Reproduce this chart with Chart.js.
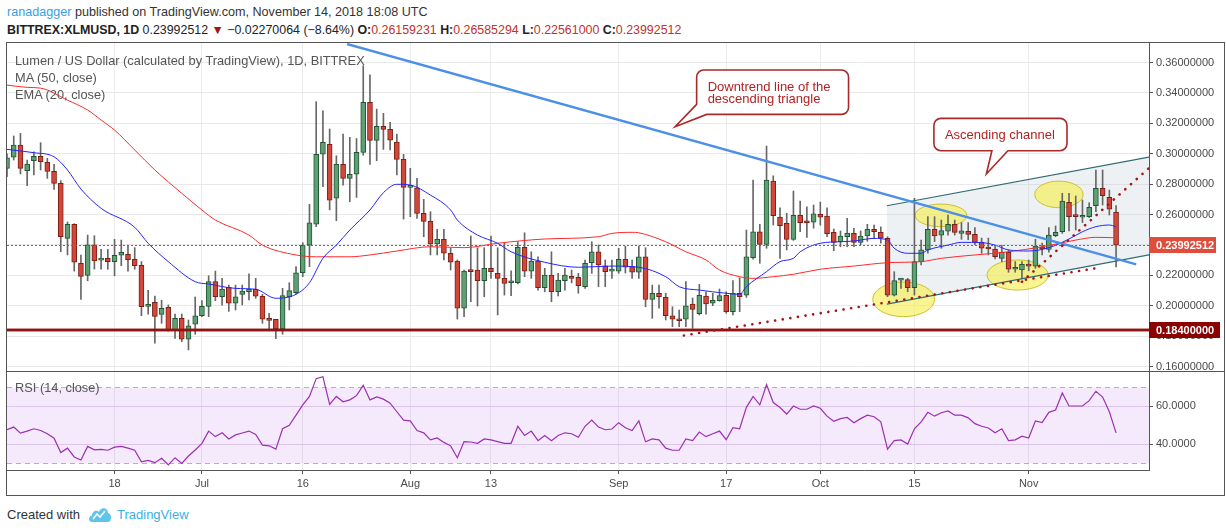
<!DOCTYPE html>
<html>
<head>
<meta charset="utf-8">
<script src="https://cdn.jsdelivr.net/npm/chart.js@4.4.1/dist/chart.umd.min.js"></script>
<style>
  body { margin: 0; width: 1226px; height: 532px; overflow: hidden; background: #fff; position: relative;
         font-family: 'Liberation Sans', Arial, sans-serif; color: #333; }
  .t { position: absolute; white-space: nowrap; line-height: 16px; }
  #frame { position: absolute; left: 6px; top: 42px; width: 1219px; height: 454px; border: 1px solid #555; box-sizing: border-box; }
  canvas { position: absolute; }
  .red { color: #c0322a; }
  .b { font-weight: bold; }
</style>
</head>
<body>
<div id="frame"></div>
<canvas id="price" width="1217" height="328" style="left:7px;top:43px"></canvas>
<canvas id="rsi" width="1217" height="124" style="left:7px;top:371px"></canvas>

<div class="t" style="left:7px;top:4px;font-size:12.6px"><span style="color:#3a9ee4">ranadagger</span> published on TradingView.com, November 14, 2018 18:08 UTC</div>
<div class="t" style="left:7px;top:22px;font-size:12.4px;color:#222"><span class="b">BITTREX:XLMUSD, 1D</span> 0.23992512 <span style="color:#a31515">▼</span> −0.02270064 (−8.64%) <span class="b">O:</span><span class="red">0.26159231</span> <span class="b">H:</span><span class="red">0.26585294</span> <span class="b">L:</span><span class="red">0.22561000</span> <span class="b">C:</span><span class="red">0.23992512</span></div>

<div class="t" style="left:15px;top:53px;font-size:12.8px;color:#555">Lumen / US Dollar (calculated by TradingView), 1D, BITTREX</div>
<div class="t" style="left:15px;top:70px;font-size:12.8px;color:#555">MA (50, close)</div>
<div class="t" style="left:15px;top:87px;font-size:12.8px;color:#555">EMA (20, close)</div>
<div class="t" style="left:15px;top:380px;font-size:12.8px;color:#555">RSI (14, close)</div>

<div class="t" style="left:7px;top:507px;font-size:13px;color:#333">Created with</div>
<svg style="position:absolute;left:88px;top:505px" width="24" height="18" viewBox="0 0 24 18">
  <path d="M4 17 C0 17 0 11 4 10.5 C4 6 9 4.5 11 7 C12.5 2 20 2 20 8 C24 8.5 24 17 20 17 Z" fill="#5ec4ea"/>
  <path d="M5 14 L9 9 L12 12 L17 6" stroke="#fff" stroke-width="1.6" fill="none"/>
</svg>
<div class="t" style="left:117px;top:507px;font-size:13px;color:#3bb1e2">TradingView</div>

<script>
// daily candles, day 0 = 2 Jun 2018 ... day 165 = 14 Nov 2018
const opens = [
  0.2904,0.2977,0.3057,0.2888,0.2954,0.2983,0.2944,0.2884,0.2805,0.2443,
  0.2536,0.2279,0.2200,0.2401,0.2300,0.2312,0.2290,0.2332,0.2338,0.2305,
  0.2266,0.1996,0.2022,0.1943,0.1990,0.1840,0.1917,0.1779,0.1878,0.1934,
  0.1996,0.2158,0.2059,0.2121,0.2016,0.2075,0.2092,0.2110,0.2062,0.1917,
  0.1911,0.1847,0.2059,0.2086,0.2217,0.2399,0.2536,0.2997,0.3062,0.2707,
  0.2930,0.2838,0.2865,0.3009,0.3338,0.3088,0.3180,0.3161,0.3077,0.2963,
  0.2779,0.2775,0.2608,0.2555,0.2406,0.2437,0.2345,0.2294,0.1983,0.2228,
  0.2235,0.2165,0.2246,0.2213,0.2180,0.2151,0.2151,0.2384,0.2228,0.2294,
  0.2118,0.2202,0.2092,0.2165,0.2191,0.2187,0.2125,0.2283,0.2355,0.2263,
  0.2228,0.2228,0.2305,0.2257,0.2220,0.2322,0.2042,0.2082,0.2055,0.1934,
  0.1912,0.1911,0.2011,0.1947,0.2064,0.2016,0.2033,0.2068,0.1961,0.2082,
  0.2070,0.2316,0.2487,0.2404,0.2821,0.2584,0.2542,0.2437,0.2595,0.2551,
  0.2549,0.2601,0.2590,0.2483,0.2421,0.2454,0.2476,0.2417,0.2459,0.2503,
  0.2483,0.2444,0.2070,0.2168,0.2172,0.2118,0.2290,0.2367,0.2503,0.2465,
  0.2491,0.2536,0.2476,0.2490,0.2470,0.2417,0.2382,0.2373,0.2312,0.2351,
  0.2240,0.2235,0.2274,0.2261,0.2386,0.2371,0.2461,0.2487,0.2680,0.2597,
  0.2582,0.2586,0.2658,0.2773,0.2713,0.26159231
];
const highs = [
  0.3000,0.3117,0.3134,0.2959,0.3013,0.3073,0.2970,0.2930,0.2823,0.2551,
  0.2540,0.2334,0.2465,0.2461,0.2371,0.2371,0.2437,0.2432,0.2399,0.2382,
  0.2290,0.2101,0.2064,0.2036,0.2005,0.1945,0.1945,0.1906,0.2057,0.2033,
  0.2197,0.2228,0.2180,0.2136,0.2136,0.2136,0.2209,0.2180,0.2075,0.1950,
  0.1911,0.2114,0.2151,0.2257,0.2415,0.2667,0.3343,0.3283,0.3163,0.2987,
  0.3130,0.3108,0.3100,0.3580,0.3520,0.3294,0.3266,0.3207,0.3130,0.2996,
  0.2904,0.2838,0.2700,0.2619,0.2503,0.2503,0.2378,0.2301,0.2235,0.2459,
  0.2382,0.2382,0.2459,0.2382,0.2415,0.2230,0.2421,0.2480,0.2355,0.2322,
  0.2246,0.2355,0.2213,0.2246,0.2235,0.2213,0.2301,0.2421,0.2399,0.2301,
  0.2301,0.2378,0.2391,0.2301,0.2393,0.2382,0.2136,0.2136,0.2082,0.1993,
  0.1972,0.2158,0.2051,0.2141,0.2092,0.2082,0.2110,0.2092,0.2165,0.2184,
  0.2498,0.2827,0.2536,0.3051,0.2855,0.2645,0.2608,0.2755,0.2689,0.2651,
  0.2663,0.2682,0.2645,0.2505,0.2492,0.2575,0.2509,0.2492,0.2536,0.2530,
  0.2519,0.2454,0.2224,0.2180,0.2180,0.2707,0.2432,0.2586,0.2586,0.2564,
  0.2597,0.2564,0.2547,0.2547,0.2514,0.2445,0.2445,0.2397,0.2397,0.2367,
  0.2290,0.2290,0.2301,0.2437,0.2412,0.2514,0.2525,0.2740,0.2740,0.2722,
  0.2696,0.2678,0.2893,0.2893,0.2761,0.26585294
];
const lows = [
  0.2850,0.2959,0.2867,0.2790,0.2860,0.2893,0.2838,0.2766,0.2355,0.2334,
  0.2228,0.2042,0.2164,0.2241,0.2240,0.2240,0.2197,0.2263,0.2228,0.2240,
  0.1934,0.1945,0.1753,0.1884,0.1833,0.1785,0.1763,0.1709,0.1812,0.1928,
  0.1928,0.2033,0.2003,0.1963,0.1972,0.2005,0.2038,0.2049,0.1884,0.1840,
  0.1783,0.1812,0.1972,0.2077,0.2191,0.2257,0.2520,0.2783,0.2630,0.2559,
  0.2794,0.2684,0.2713,0.2990,0.2930,0.2954,0.3029,0.3025,0.2860,0.2570,
  0.2586,0.2575,0.2454,0.2334,0.2334,0.2301,0.2235,0.1912,0.1928,0.2026,
  0.1998,0.2059,0.2180,0.1939,0.2070,0.2066,0.2143,0.2191,0.2180,0.2103,
  0.2092,0.2026,0.2064,0.2103,0.2150,0.2082,0.2114,0.2213,0.2125,0.2125,
  0.2180,0.2213,0.2215,0.2180,0.2180,0.1993,0.1917,0.1983,0.1906,0.1862,
  0.1862,0.1862,0.1851,0.1939,0.1945,0.2000,0.2030,0.1950,0.1939,0.1961,
  0.2055,0.2307,0.2279,0.2378,0.2531,0.2312,0.2367,0.2430,0.2487,0.2450,
  0.2510,0.2530,0.2454,0.2362,0.2388,0.2388,0.2388,0.2401,0.2424,0.2441,
  0.2412,0.2059,0.2064,0.2114,0.2092,0.2070,0.2268,0.2345,0.2421,0.2378,
  0.2465,0.2465,0.2437,0.2434,0.2401,0.2345,0.2334,0.2308,0.2290,0.2220,
  0.2220,0.2176,0.2230,0.2246,0.2334,0.2353,0.2454,0.2476,0.2492,0.2498,
  0.2547,0.2580,0.2619,0.2663,0.2597,0.22561000
];
const closes = [
  0.2974,0.3057,0.2904,0.2932,0.2983,0.2948,0.2884,0.2805,0.2454,0.2536,
  0.2286,0.2193,0.2401,0.2294,0.2303,0.2290,0.2332,0.2351,0.2303,0.2263,
  0.1993,0.2000,0.1930,0.1983,0.1840,0.1917,0.1779,0.1868,0.1934,0.1996,
  0.2158,0.2059,0.2110,0.2016,0.2059,0.2097,0.2110,0.2062,0.1911,0.1904,
  0.1847,0.2066,0.2099,0.2217,0.2397,0.2546,0.2997,0.3075,0.2694,0.2930,
  0.2838,0.2865,0.3009,0.3338,0.3088,0.3180,0.3161,0.3090,0.2963,0.2779,
  0.2788,0.2608,0.2555,0.2406,0.2437,0.2345,0.2286,0.1983,0.2228,0.2224,
  0.2165,0.2246,0.2224,0.2180,0.2147,0.2157,0.2384,0.2228,0.2294,0.2118,
  0.2202,0.2092,0.2169,0.2202,0.2180,0.2132,0.2279,0.2355,0.2268,0.2224,
  0.2232,0.2305,0.2253,0.2220,0.2322,0.2042,0.2082,0.2059,0.1934,0.1911,
  0.1901,0.2000,0.1976,0.2068,0.2011,0.2036,0.2066,0.1961,0.2082,0.2059,
  0.2322,0.2487,0.2404,0.2827,0.2592,0.2526,0.2437,0.2595,0.2546,0.2546,
  0.2605,0.2582,0.2474,0.2417,0.2459,0.2478,0.2417,0.2459,0.2503,0.2487,
  0.2444,0.2070,0.2165,0.2172,0.2118,0.2290,0.2367,0.2503,0.2459,0.2494,
  0.2536,0.2483,0.2492,0.2470,0.2417,0.2378,0.2373,0.2322,0.2351,0.2240,
  0.2246,0.2272,0.2261,0.2393,0.2373,0.2465,0.2483,0.2689,0.2586,0.2586,
  0.2586,0.2647,0.2773,0.2724,0.2636,0.23992512
];

// moving averages (day, value)
const maDays = [0,3,5,9,12,14,16,19,22,26,29,31,36,38,43,46,51,54,58,63,68,73,80,88,90,93,94,98,101,104,106,109,111,114,117,121,126,131,136,139,144,149,154,159,162,165];
const maVals = [0.3452,0.3437,0.3432,0.3353,0.3288,0.3222,0.3156,0.3025,0.2893,0.2740,0.2630,0.2564,0.2465,0.2399,0.2334,0.2322,0.2322,0.2334,0.2360,0.2388,0.2382,0.2411,0.2439,0.2454,0.2476,0.2483,0.2480,0.2421,0.2355,0.2301,0.2235,0.2191,0.2180,0.2191,0.2207,0.2240,0.2261,0.2283,0.2290,0.2312,0.2334,0.2355,0.2388,0.2432,0.2450,0.2447];
const emaDays = [0,4,7,9,11,14,19,21,24,28,30,34,37,40,43,45,47,49,51,54,56,58,60,63,66,67,70,73,75,80,85,90,94,98,100,103,107,109,110,113,115,117,118,121,124,126,129,131,132,134,136,137,140,142,145,147,149,152,155,158,160,162,164,165];
const emaVals = [0.3029,0.3007,0.2980,0.2893,0.2768,0.2641,0.2516,0.2411,0.2290,0.2158,0.2143,0.2114,0.2108,0.2049,0.2075,0.2151,0.2312,0.2399,0.2498,0.2630,0.2744,0.2799,0.2794,0.2728,0.2630,0.2564,0.2465,0.2411,0.2355,0.2286,0.2253,0.2261,0.2253,0.2191,0.2125,0.2103,0.2082,0.2075,0.2125,0.2224,0.2290,0.2312,0.2355,0.2411,0.2421,0.2426,0.2443,0.2432,0.2378,0.2345,0.2345,0.2367,0.2399,0.2417,0.2415,0.2399,0.2367,0.2360,0.2382,0.2439,0.2487,0.2520,0.2531,0.2520];

// RSI(14), one value per day
const rsiVals = [
  47.6,49.0,45.8,46.9,48.1,47.2,45.5,43.2,35.7,38.0,
  33.4,31.8,38.9,37.1,37.3,36.9,38.5,38.9,38.0,36.9,
  30.9,31.6,30.4,32.7,29.3,33.0,30.0,33.9,37.0,40.5,
  46.9,44.0,46.0,42.8,44.9,45.9,46.9,45.1,39.6,39.2,
  37.5,48.1,49.9,55.2,60.6,65.0,74.3,75.3,60.8,65.0,
  62.2,63.2,65.4,70.9,63.2,64.7,63.6,61.5,57.0,52.6,
  52.2,47.2,46.0,42.3,43.3,41.0,39.2,33.0,41.4,41.2,
  40.5,42.8,42.3,41.4,40.5,40.5,49.4,44.6,46.9,41.9,
  44.6,41.9,44.6,46.0,45.5,43.7,49.4,52.6,49.0,47.6,
  48.0,51.3,48.6,47.2,52.2,41.3,42.8,42.3,38.0,36.9,
  36.9,42.8,41.9,46.4,44.0,45.5,46.9,42.4,48.7,48.1,
  59.3,65.0,60.6,71.2,61.8,59.2,55.8,60.0,58.3,58.3,
  60.0,58.8,54.7,52.0,53.4,54.0,51.3,53.4,55.2,54.4,
  51.7,37.5,41.9,42.3,40.1,48.1,51.7,56.7,54.7,56.5,
  57.4,55.2,55.2,53.8,50.8,49.4,48.5,46.0,48.1,41.9,
  42.3,44.2,43.3,52.2,51.3,56.7,57.9,66.8,60.0,60.0,
  60.0,62.8,67.7,64.7,57.0,46.0
];

// axis ticks
const tickDays = [16, 29, 44, 60, 72, 91, 107, 121, 135, 152];
const tickLabels = ['18', 'Jul', '16', 'Aug', '13', 'Sep', '17', 'Oct', '15', 'Nov'];
const priceTicks = [0.16, 0.18, 0.20, 0.22, 0.24, 0.26, 0.28, 0.30, 0.32, 0.34, 0.36];
const rsiTicks = [40, 60];
const rsiBand = [30, 70];

// drawings (day, price)
const lastPrice = 0.23992512;
const supportLevel = 0.184;
const downtrend = [[50.6, 0.3722], [168.0, 0.2272]];
const channelUpper = [[130.9, 0.2658], [169.9, 0.2978]];
const channelLower = [[130.9, 0.2011], [169.9, 0.2334]];
const risingDots = [[100.7, 0.1804], [161.9, 0.2246]];
const steepDots = [[151.0, 0.2158], [169.9, 0.2906]];
// [day from, day to, price top, price bottom]
const ellipses = [
  [128.8, 138.0, 0.2156, 0.1928],
  [135.1, 142.8, 0.2669, 0.2520],
  [145.8, 154.9, 0.2301, 0.2103],
  [152.9, 160.1, 0.2820, 0.2645]
];
const callouts = [
  { box: [102.6, 125.2, 0.3551, 0.3259], tip: [99.4, 0.3178], lines: ['Downtrend line of the', 'descending triangle'], tail: 'corner' },
  { box: [137.9, 157.7, 0.3233, 0.3020], tip: [145.7, 0.2867], lines: ['Ascending channel'], tail: 'bottom' }
];

const X_MIN = 0, X_MAX = 169.9;
const GREEN = '#5f9f74', GREEN_EDGE = '#215634', RED = '#d1473a', RED_EDGE = '#7c1e16';

Chart.defaults.font.family = "'Liberation Sans', Arial, sans-serif";
Chart.defaults.font.size = 11;
Chart.defaults.color = '#4a4a4a';

const days = opens.map((_, i) => i);
const up = days.map(i => closes[i] >= opens[i]);

// no label overhang padding: chart area must fill the pane
function noPad(s) {
  s.paddingTop = 0; s.paddingBottom = 0; s.paddingLeft = 0; s.paddingRight = 0;
}

function xAxis(showLabels) {
  return {
    type: 'linear', min: X_MIN, max: X_MAX, offset: false,
    afterBuildTicks: s => { s.ticks = tickDays.map(v => ({ value: v })); },
    ticks: { display: showLabels, autoSkip: false, maxRotation: 0, color: '#4a4a4a',
             callback: v => tickLabels[tickDays.indexOf(v)] },
    grid: { color: '#ebebeb', offset: false, drawTicks: showLabels, tickLength: 4, tickColor: '#555' },
    border: { display: showLabels, color: '#555' },
    afterFit: s => { s.height = showLabels ? 25 : 0; noPad(s); }
  };
}

function seg(ctx, a, b) {
  ctx.beginPath(); ctx.moveTo(a[0], a[1]); ctx.lineTo(b[0], b[1]); ctx.stroke();
}

function roundedPath(ctx, l, t, r, b, rad, c, tip) {
  ctx.beginPath();
  ctx.moveTo(l + rad, t);
  ctx.arcTo(r, t, r, b, rad);
  ctx.arcTo(r, b, l, b, rad);
  if (c.tail === 'bottom') {
    ctx.lineTo(l + 74, b); ctx.lineTo(tip[0], tip[1]); ctx.lineTo(l + 58, b);
    ctx.arcTo(l, b, l, t, rad);
  } else {
    ctx.lineTo(l + 10, b); ctx.lineTo(tip[0], tip[1]); ctx.lineTo(l, b - 10);
  }
  ctx.arcTo(l, t, r, t, rad);
  ctx.closePath();
}

const pricePlugin = {
  id: 'pricePlugin',
  beforeDatasetsDraw(chart) {
    const { ctx, chartArea: a, scales: { x, y } } = chart;
    const P = pt => [x.getPixelForValue(pt[0]), y.getPixelForValue(pt[1])];
    ctx.save();
    ctx.beginPath(); ctx.rect(a.left, a.top, a.width, a.height); ctx.clip();
    const u0 = P(channelUpper[0]), u1 = P(channelUpper[1]), l0 = P(channelLower[0]), l1 = P(channelLower[1]);
    ctx.fillStyle = 'rgba(190,205,212,0.27)';
    ctx.beginPath(); ctx.moveTo(...u0); ctx.lineTo(...u1); ctx.lineTo(...l1); ctx.lineTo(...l0); ctx.closePath(); ctx.fill();
    ellipses.forEach(e => {
      const [xa, ya] = P([e[0], e[2]]), [xb, yb] = P([e[1], e[3]]);
      ctx.beginPath();
      ctx.ellipse((xa + xb) / 2, (ya + yb) / 2, (xb - xa) / 2, (yb - ya) / 2, 0, 0, Math.PI * 2);
      ctx.fillStyle = 'rgba(247,240,85,0.65)'; ctx.fill();
      ctx.strokeStyle = 'rgba(196,186,40,0.9)'; ctx.lineWidth = 1; ctx.stroke();
    });
    ctx.restore();
  },
  afterDatasetsDraw(chart) {
    const { ctx, chartArea: a, scales: { x, y } } = chart;
    const P = pt => [x.getPixelForValue(pt[0]), y.getPixelForValue(pt[1])];
    ctx.save();
    ctx.beginPath(); ctx.rect(a.left, a.top, a.width, a.height); ctx.clip();

    // support level
    const ys = Math.round(y.getPixelForValue(supportLevel));
    ctx.strokeStyle = 'rgba(150,25,25,0.45)'; ctx.lineWidth = 4; seg(ctx, [a.left, ys], [a.right, ys]);
    ctx.strokeStyle = '#8d1414'; ctx.lineWidth = 2; seg(ctx, [a.left, ys], [a.right, ys]);

    // last price
    const yl = Math.round(y.getPixelForValue(lastPrice)) + 0.5;
    ctx.setLineDash([2, 2]); ctx.strokeStyle = '#e03a2c'; ctx.lineWidth = 1;
    seg(ctx, [a.left, yl], [a.right, yl]);
    ctx.setLineDash([]);

    // ascending channel borders
    ctx.strokeStyle = '#2f6c76'; ctx.lineWidth = 1.2;
    seg(ctx, P(channelUpper[0]), P(channelUpper[1]));
    seg(ctx, P(channelLower[0]), P(channelLower[1]));

    // downtrend line
    ctx.strokeStyle = '#4b8fe6'; ctx.lineWidth = 2.5;
    seg(ctx, P(downtrend[0]), P(downtrend[1]));

    // dotted trend lines
    ctx.strokeStyle = '#a5161a'; ctx.lineWidth = 2.6; ctx.lineCap = 'round';
    ctx.setLineDash([0.1, 7.6]);
    seg(ctx, P(risingDots[0]), P(risingDots[1]));
    seg(ctx, P(steepDots[0]), P(steepDots[1]));
    ctx.setLineDash([]); ctx.lineCap = 'butt';

    // callouts
    callouts.forEach(c => {
      const [l, t] = P([c.box[0], c.box[2]]), [r, b] = P([c.box[1], c.box[3]]);
      const tip = P(c.tip);
      roundedPath(ctx, l, t, r, b, 7, c, tip);
      ctx.fillStyle = '#fff'; ctx.fill();
      ctx.strokeStyle = '#a82a2a'; ctx.lineWidth = 1.6; ctx.stroke();
      ctx.fillStyle = '#b22222'; ctx.font = "13px 'Liberation Sans', Arial, sans-serif";
      ctx.textBaseline = 'alphabetic';
      const lh = 11.7;
      const y0 = (t + b) / 2 - (c.lines.length - 1) * lh / 2 + 4.5;
      c.lines.forEach((s, k) => ctx.fillText(s, l + 11, y0 + k * lh));
    });
    ctx.restore();
  },
  afterDraw(chart) {
    const { ctx, chartArea: a, scales: { y } } = chart;
    ctx.save();
    ctx.font = "bold 11px 'Liberation Sans', Arial, sans-serif";
    ctx.textBaseline = 'middle';
    [[lastPrice, '#df4e3c', 67], [supportLevel, '#8b0000', 71]].forEach(([v, col, w]) => {
      const yy = Math.round(y.getPixelForValue(v));
      ctx.fillStyle = col; ctx.fillRect(a.right, yy - 8, w, 16);
      ctx.fillStyle = '#fff'; ctx.fillText(v.toFixed(8), a.right + 7, yy + 0.5);
    });
    ctx.restore();
  }
};

new Chart(document.getElementById('price'), {
  type: 'bar',
  data: {
    datasets: [
      { type: 'line', label: 'EMA 20', data: emaDays.map((d, k) => ({ x: d, y: emaVals[k] })),
        borderColor: '#2424ff', borderWidth: 1, pointRadius: 0, cubicInterpolationMode: 'monotone', order: 1 },
      { type: 'line', label: 'MA 50', data: maDays.map((d, k) => ({ x: d, y: maVals[k] })),
        borderColor: '#ff2a2a', borderWidth: 1, pointRadius: 0, cubicInterpolationMode: 'monotone', order: 2 },
      { label: 'body', data: days.map(i => ({ x: i, y: [opens[i], closes[i]] })),
        backgroundColor: up.map(u => u ? GREEN : RED), borderColor: up.map(u => u ? GREEN_EDGE : RED_EDGE),
        borderWidth: 1, borderSkipped: false, barThickness: 5, minBarLength: 2, grouped: false, order: 3 },
      { label: 'wick', data: days.map(i => ({ x: i, y: [lows[i], highs[i]] })),
        backgroundColor: '#676767', barThickness: 1, grouped: false, order: 4 }
    ]
  },
  options: {
    responsive: false, animation: false,
    layout: { padding: 0 },
    plugins: { legend: { display: false }, tooltip: { enabled: false } },
    scales: {
      x: xAxis(false),
      y: {
        position: 'right', min: 0.15703, max: 0.3729, beginAtZero: false,
        afterBuildTicks: s => { s.ticks = priceTicks.map(v => ({ value: v })); },
        ticks: { callback: v => v.toFixed(8), color: '#4a4a4a', padding: 3 },
        grid: { color: '#e9e9e9', tickLength: 4, tickColor: '#555' },
        border: { color: '#555' },
        afterFit: s => { s.width = 75; noPad(s); }
      }
    }
  },
  plugins: [pricePlugin]
});

const rsiPlugin = {
  id: 'rsiPlugin',
  beforeDatasetsDraw(chart) {
    const { ctx, chartArea: a, scales: { y } } = chart;
    const yTop = Math.round(y.getPixelForValue(rsiBand[1])) + 0.5, yBot = Math.round(y.getPixelForValue(rsiBand[0])) + 0.5;
    ctx.save();
    ctx.fillStyle = 'rgba(165,80,225,0.12)';
    ctx.fillRect(a.left, yTop, a.width, yBot - yTop);
    ctx.setLineDash([5, 4]); ctx.strokeStyle = '#b8aebc'; ctx.lineWidth = 1;
    seg(ctx, [a.left, yTop], [a.right, yTop]);
    seg(ctx, [a.left, yBot], [a.right, yBot]);
    ctx.restore();
  },
  afterDraw(chart) {
    const ctx = chart.ctx;
    ctx.save(); ctx.fillStyle = '#555'; ctx.fillRect(0, 0, chart.width, 1); ctx.restore();
  }
};

new Chart(document.getElementById('rsi'), {
  type: 'line',
  data: {
    datasets: [{ label: 'RSI', data: days.map(i => ({ x: i, y: rsiVals[i] })),
      borderColor: '#9c2fb2', borderWidth: 1.2, pointRadius: 0, tension: 0 }]
  },
  options: {
    responsive: false, animation: false,
    layout: { padding: 0 },
    plugins: { legend: { display: false }, tooltip: { enabled: false } },
    scales: {
      x: xAxis(true),
      y: {
        position: 'right', min: 26.58, max: 78.28,
        afterBuildTicks: s => { s.ticks = rsiTicks.map(v => ({ value: v })); },
        ticks: { callback: v => v.toFixed(4), color: '#4a4a4a', padding: 3 },
        grid: { color: '#e3d6ec', tickLength: 4, tickColor: '#555' },
        border: { color: '#555' },
        afterFit: s => { s.width = 75; noPad(s); }
      }
    }
  },
  plugins: [rsiPlugin]
});
</script>
</body>
</html>
